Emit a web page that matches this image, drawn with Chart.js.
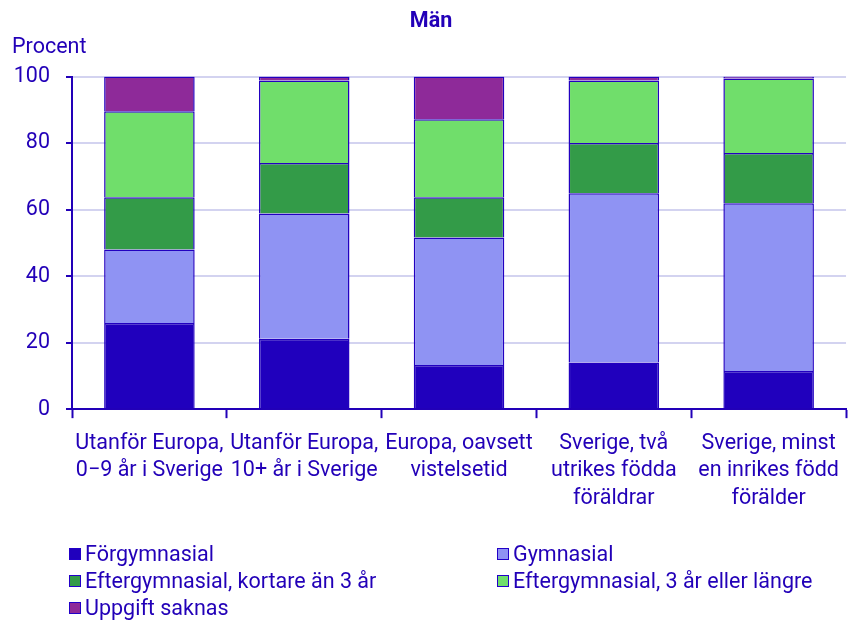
<!DOCTYPE html>
<html>
<head>
<meta charset="utf-8">
<script src="https://cdn.jsdelivr.net/npm/chart.js@4/dist/chart.umd.min.js"></script>
<style>
  body { margin: 0; background: #fff; }
  #wrap { position: relative; width: 850px; height: 622px; }
  #leyenda {
    position: absolute; left: 69px; top: 540px;
    display: grid; grid-template-columns: 428px 350px;
    font-family: Roboto, sans-serif; font-size: 21.5px; color: #2200b8;
  }
  #leyenda div { height: 27px; line-height: 27px; display: flex; align-items: center; }
  #leyenda span.caja { width: 10px; height: 10px; border: 1.5px solid #2200c8; margin-right: 4px; }
</style>
</head>
<body>
<div id="wrap">
  <canvas id="grafo" width="850" height="622"></canvas>
  <div id="leyenda"></div>
</div>
<script>
// categorias (lineas de cada etiqueta)
const categorias = [
  ['Utanför Europa,', '0\u22129 år i Sverige'],
  ['Utanför Europa,', '10+ år i Sverige'],
  ['Europa, oavsett', 'vistelsetid'],
  ['Sverige, två', 'utrikes födda', 'föräldrar'],
  ['Sverige, minst', 'en inrikes född', 'förälder']
];

// valores en procent
const forgymnasial = [25.9, 21.2, 13.3, 14.0, 11.5];
const gymnasial = [22.1, 37.6, 38.3, 50.9, 50.4];
const kortare = [15.7, 15.2, 12.1, 15.1, 15.1];
const langre = [25.9, 24.8, 23.5, 18.8, 22.4];
const saknas = [10.4, 1.2, 12.8, 1.2, 0.6];

const nombresSerie = ['Förgymnasial', 'Gymnasial', 'Eftergymnasial, kortare än 3 år', 'Eftergymnasial, 3 år eller längre', 'Uppgift saknas'];
const colores = ['#2000bd', '#8f93f3', '#339b48', '#70de6b', '#8e2a99'];
const valores = [forgymnasial, gymnasial, kortare, langre, saknas];

const ticksY = [0, 20, 40, 60, 80, 100];

const azul = '#2200b8';
const fuente = 'Roboto, sans-serif';
const tam = 21.5;

let datasets = [];
for (let i = 0; i < valores.length; i++) {
  datasets.push({
    label: nombresSerie[i],
    data: valores[i],
    backgroundColor: colores[i],
    borderColor: '#2200c0',
    borderWidth: 1.5,
    barPercentage: 0.585,
    categoryPercentage: 1
  });
}

const $grafo = document.querySelector('#grafo');
const grafica = new Chart($grafo, {
  type: 'bar',
  data: { labels: categorias, datasets: datasets },
  options: {
    responsive: false,
    animation: false,
    layout: { padding: { left: 12, right: 0, top: 0, bottom: 98 } },
    plugins: {
      legend: { display: false },
      tooltip: { enabled: false },
      title: {
        display: true, text: 'Män', color: azul,
        font: { family: fuente, size: tam, weight: 'bold' },
        padding: { top: 9, bottom: 0 }
      },
      subtitle: {
        display: true, text: 'Procent', color: azul, align: 'start',
        font: { family: fuente, size: tam },
        padding: { top: 0, bottom: 16 }
      }
    },
    scales: {
      x: {
        stacked: true,
        offset: true,
        grid: { offset: true, drawOnChartArea: false, tickLength: 9, tickColor: azul, tickWidth: 2 },
        border: { color: azul, width: 2 },
        ticks: { color: azul, maxRotation: 0, autoSkip: false, padding: 11,
                 font: { family: fuente, size: tam, lineHeight: 1.3 } }
      },
      y: {
        stacked: true,
        min: 0, max: 100,
        afterFit: (s) => { s.width = 60; },
        afterBuildTicks: (s) => { s.ticks = ticksY.map(v => ({ value: v })); },
        grid: { color: '#d3d3f0', lineWidth: 2, tickLength: 6, tickColor: azul, tickWidth: 2 },
        border: { color: azul, width: 2 },
        ticks: { color: azul, padding: 16, font: { family: fuente, size: tam } }
      }
    }
  }
});

// leyenda en dos columnas
const leyenda = document.getElementById('leyenda');
for (let i = 0; i < nombresSerie.length; i++) {
  const fila = document.createElement('div');
  const caja = document.createElement('span');
  caja.className = 'caja';
  caja.style.background = colores[i];
  fila.appendChild(caja);
  fila.appendChild(document.createTextNode(nombresSerie[i]));
  leyenda.appendChild(fila);
}
</script>
</body>
</html>
